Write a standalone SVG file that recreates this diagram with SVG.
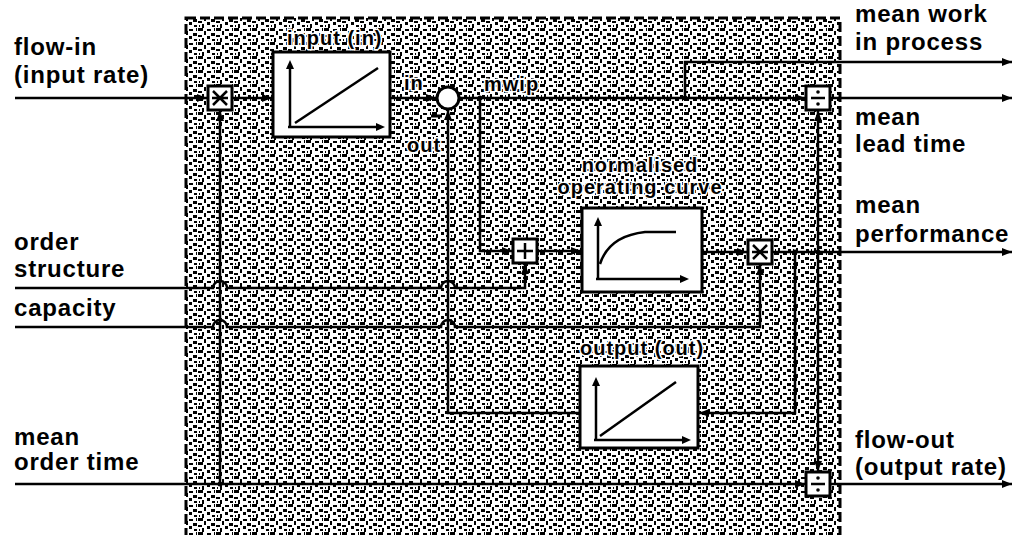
<svg xmlns="http://www.w3.org/2000/svg" width="1015" height="535" viewBox="0 0 1015 535">
<style>
.t{font-family:"Liberation Sans",Arial,sans-serif;font-weight:bold;font-size:24px;letter-spacing:0.8px;fill:#000}
.s{font-family:"Liberation Sans",Arial,sans-serif;font-weight:bold;font-size:20px;letter-spacing:1px;fill:#000;stroke:#fff;stroke-width:3px;stroke-linejoin:round;paint-order:stroke}
.box{fill:#fff;stroke:#000;stroke-width:3}
.op{fill:#fff;stroke:#000;stroke-width:3}
.sym{fill:none;stroke:#000;stroke-width:2.5}
.ax{fill:none;stroke:#000;stroke-width:2.5}
.ca{fill:none;stroke:#000;stroke-width:2.5;marker-end:url(#ah)}
</style>
<defs>
<marker id="ah" markerUnits="userSpaceOnUse" markerWidth="10" markerHeight="8" refX="10" refY="4" orient="auto">
<path d="M0,0 L10,4 L0,8 z" fill="#000"/>
</marker>
<pattern id="tex" patternUnits="userSpaceOnUse" width="18" height="14">
<rect width="18" height="14" fill="#fff"/>
<rect x="0" y="0" width="5" height="3" fill="#000"/>
<rect x="9" y="1" width="4" height="2" fill="#000"/>
<rect x="6" y="3" width="2" height="4" fill="#000"/>
<rect x="13" y="5" width="4" height="3" fill="#000"/>
<rect x="0" y="7" width="4" height="2" fill="#000"/>
<rect x="9" y="8" width="3" height="3" fill="#000"/>
<rect x="4" y="10" width="2" height="4" fill="#000"/>
<rect x="14" y="11" width="3" height="2" fill="#000"/>
<rect x="16" y="0" width="1" height="3" fill="#000"/>
<rect x="1" y="11" width="1" height="2" fill="#000"/>
</pattern>
</defs>

<g id="boundary">
<rect x="186" y="18" width="654" height="530" fill="url(#tex)" stroke="#000" stroke-width="3" stroke-dasharray="10 4"/>
</g>

<g id="connectors">
<path class="ca" d="M15,98 H207"/>
<path class="ca" d="M232,98 H272"/>
<path class="ca" d="M390,98 H436"/>
<path class="ca" d="M459,98 H805"/>
<path class="ca" d="M685,98 V62 H1012"/>
<path class="ca" d="M830,98 H1012"/>
<path class="ca" d="M480,98 V251 H512"/>
<path class="ca" d="M537,251 H581"/>
<path class="ca" d="M702,252 H747"/>
<path class="ca" d="M772,252 H1012"/>
<path class="ca" d="M818,252 V111"/>
<path class="ca" d="M818,252 V471"/>
<path class="ca" d="M795,252 V413 H699"/>
<path class="ca" d="M580,413 H448 V110"/>
<path class="ca" d="M15,288 H213 A7,7 0 0 1 227,288 H441 A7,7 0 0 1 455,288 H525 V264"/>
<path class="ca" d="M15,327 H213 A7,7 0 0 1 227,327 H441 A7,7 0 0 1 455,327 H760 V265"/>
<path class="ca" d="M15,484 H805"/>
<path class="ca" d="M220,484 V111"/>
<path class="ca" d="M830,484 H1012"/>
<line x1="431" y1="116" x2="442" y2="116" stroke="#000" stroke-width="3"/>
<circle cx="480" cy="98" r="2.5" fill="#000"/>
<circle cx="685" cy="98" r="2.5" fill="#000"/>
<circle cx="795" cy="252" r="2.5" fill="#000"/>
<circle cx="818" cy="252" r="2.5" fill="#000"/>
<circle cx="220" cy="484" r="2.5" fill="#000"/>
</g>

<g id="mult-in">
<rect class="op" x="208" y="86" width="24" height="24"/>
<path class="sym" d="M213,91 L227,105 M227,91 L213,105 M212,98 H228"/>
</g>

<g id="input-box">
<rect class="box" x="273" y="52" width="117" height="85"/>
<path class="ax" d="M290,128 V68"/>
<path d="M290,60 L294,69 L286,69 z" fill="#000"/>
<path class="ax" d="M288,127 H376"/>
<path d="M385,127 L376,123 L376,131 z" fill="#000"/>
<path class="ax" d="M295,123 L378,68"/>
<text class="s" x="287" y="45">input (in)</text>
</g>

<g id="integrator">
<circle cx="448" cy="98" r="11" fill="#fff" stroke="#000" stroke-width="3"/>
<text class="s" x="404" y="90">in</text>
<text class="s" x="407" y="152">out</text>
<text class="s" x="484" y="91">mwip</text>
</g>

<g id="plus-box">
<rect class="op" x="513" y="239" width="24" height="24"/>
<path class="sym" d="M525,243 V259 M517,251 H533"/>
</g>

<g id="operating-curve">
<rect class="box" x="582" y="208" width="120" height="84"/>
<path class="ax" d="M598,280 V225"/>
<path d="M598,217 L602,226 L594,226 z" fill="#000"/>
<path class="ax" d="M596,279 H680"/>
<path d="M689,279 L680,275 L680,283 z" fill="#000"/>
<path class="ax" d="M600,264 Q609,236 645,232 L676,232"/>
<text class="s" x="640" y="172" text-anchor="middle">normalised</text>
<text class="s" x="640" y="194" text-anchor="middle">operating curve</text>
</g>

<g id="mult-perf">
<rect class="op" x="748" y="240" width="24" height="24"/>
<path class="sym" d="M753,245 L767,259 M767,245 L753,259 M752,252 H768"/>
</g>

<g id="output-box">
<rect class="box" x="580" y="366" width="118" height="82"/>
<path class="ax" d="M596,440 V385"/>
<path d="M596,377 L600,386 L592,386 z" fill="#000"/>
<path class="ax" d="M594,440 H682"/>
<path d="M691,440 L682,436 L682,444 z" fill="#000"/>
<path class="ax" d="M600,436 L676,382"/>
<text class="s" x="580" y="355">output (out)</text>
</g>

<g id="div-top">
<rect class="op" x="806" y="86" width="24" height="24"/>
<path class="sym" d="M811,98 H825"/>
<circle cx="818" cy="92" r="1.8" fill="#000"/>
<circle cx="818" cy="104" r="1.8" fill="#000"/>
</g>

<g id="div-bottom">
<rect class="op" x="806" y="472" width="24" height="24"/>
<path class="sym" d="M811,484 H825"/>
<circle cx="818" cy="478" r="1.8" fill="#000"/>
<circle cx="818" cy="490" r="1.8" fill="#000"/>
</g>

<g id="labels-left">
<text class="t" x="14" y="55">flow-in</text>
<text class="t" x="14" y="83">(input rate)</text>
<text class="t" x="14" y="250">order</text>
<text class="t" x="14" y="277">structure</text>
<text class="t" x="14" y="316">capacity</text>
<text class="t" x="14" y="445">mean</text>
<text class="t" x="14" y="470">order time</text>
</g>

<g id="labels-right">
<text class="t" x="855" y="22">mean work</text>
<text class="t" x="855" y="50">in process</text>
<text class="t" x="855" y="125">mean</text>
<text class="t" x="855" y="152">lead time</text>
<text class="t" x="855" y="213">mean</text>
<text class="t" x="855" y="242">performance</text>
<text class="t" x="855" y="448">flow-out</text>
<text class="t" x="855" y="475">(output rate)</text>
</g>
</svg>
